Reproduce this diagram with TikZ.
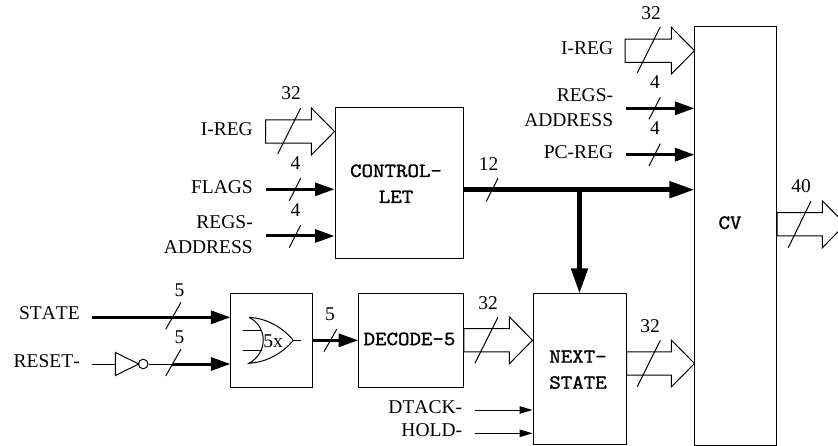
\documentclass[tikz,border=0pt]{standalone}
\usepackage{fontspec}
\setmainfont[Kerning=Off]{Liberation Serif}
\setmonofont[FakeBold=1.6,FakeStretch=1.114]{Latin Modern Mono}
\usetikzlibrary{arrows.meta,calc}
\newcommand{\bigarrow}[2]{%
  \draw[line width=1pt,line join=miter,fill=white]
    let \p1=(#1),\p2=(#2) in
    (\x1,\y1+11.6pt) -- (\x2-23.2pt,\y1+11.6pt) -- (\x2-23.2pt,\y1+23.5pt) --
    (\x2,\y1) -- (\x2-23.2pt,\y1-23.5pt) -- (\x2-23.2pt,\y1-11.6pt) -- (\x1,\y1-11.6pt) -- cycle;}
\tikzset{
  x=1pt,y=-1pt,
  every node/.style={font=\fontsize{19.5pt}{25pt}\selectfont},
  blockbox/.style={draw=black,line width=1pt,inner sep=0pt},
  blocktext/.style={inner sep=0pt,align=center,
    font=\fontsize{20pt}{26pt}\selectfont\ttfamily},
  sig/.style={anchor=east,inner sep=0pt,align=right},
  num/.style={inner sep=0pt},
  slash/.style={line width=1pt},
  busarrow/.style={line width=3pt,-{Triangle[length=19.5pt,width=13pt]}},
  mainarrow/.style={line width=4.7pt,-{Triangle[length=25pt,width=16pt]}},
  thinarrow/.style={line width=1pt,-{Triangle[length=13pt,width=7.5pt]}},
  wire/.style={line width=1pt},
  gate/.style={line width=1pt},
}
\begin{document}
\begin{tikzpicture}
\useasboundingbox (0,0) rectangle (838,446);
\clip (0,0) rectangle (838,446);

% blocks
\node[blockbox,minimum width=128pt,minimum height=151pt] (ctrl) at (399,183.5) {};
\node[blockbox,minimum width=81.7pt,minimum height=418pt] (cv) at (735.8,236) {};
\node[blockbox,minimum width=81.7pt,minimum height=93pt] (orbox) at (271.8,340.5) {};
\node[blockbox,minimum width=104.6pt,minimum height=93pt] (dec) at (411,340.5) {};
\node[blockbox,minimum width=93pt,minimum height=150pt] (next) at (579.5,369) {};
\node[blocktext] (ctrltext) at (396,183.7) {CONTROL-\\LET};
\node[blocktext] (dectext) at (409.5,339) {DECODE-5};
\node[blocktext] (nexttext) at (578,369.7) {NEXT-\\STATE};
\node[blocktext] (cvtext) at (730,222.7) {CV};

% left labels, control block
\node[sig] (l1) at (253,129) {I-REG};
\node[sig] (l2) at (253,186.7) {FLAGS};
\node[sig] (l3) at (253,234.5) {REGS-\\ADDRESS};
\coordinate (a1) at (265.7,131.5);
\coordinate (a2) at (266,189.3);
\coordinate (a3) at (266,236);
\bigarrow{a1}{ctrl.west |- a1}
\draw[busarrow] (a2) -- (ctrl.west |- a2);
\draw[busarrow] (a3) -- (ctrl.west |- a3);
\draw[slash] (277.7,154) -- (300.7,108);
\draw[slash] (289.3,200.7) -- (300.7,178.3);
\draw[slash] (289.3,247.7) -- (300.7,225);
\node[num] (n1) at (291,93) {32};
\node[num] (n2) at (295.5,163) {4};
\node[num] (n3) at (295.5,210) {4};

% labels into CV
\node[sig] (l4) at (613.3,48) {I-REG};
\node[sig] (l5) at (613.3,107.5) {REGS-\\ADDRESS};
\node[sig] (l6) at (613.3,151.7) {PC-REG};
\coordinate (a4) at (625,50.7);
\coordinate (a5) at (625.5,108.3);
\coordinate (a6) at (625.5,154.7);
\bigarrow{a4}{cv.west |- a4}
\draw[busarrow] (a5) -- (cv.west |- a5);
\draw[busarrow] (a6) -- (cv.west |- a6);
\draw[slash] (637.3,73) -- (660.3,27);
\draw[slash] (649,119.3) -- (660.3,97.3);
\draw[slash] (649,166) -- (660.3,143.7);
\node[num] (n4) at (651,13) {32};
\node[num] (n5) at (655,82) {4};
\node[num] (n6) at (655,128) {4};

% main bus
\coordinate (bus) at (463,189.7);
\coordinate (branch) at (579.5,189.7);
\draw[mainarrow] (ctrl.east |- bus) -- (cv.west |- bus);
\draw[mainarrow] (branch) -- (next.north -| branch);
\draw[slash] (486.3,201.3) -- (498,178.3);
\node[num] (n7) at (488.7,164) {12};

% CV output
\coordinate (tip40) at (845.5,224.3);
\bigarrow{cv.east |- tip40}{tip40}
\draw[slash] (788.3,247.7) -- (811,201);
\node[num] (n8) at (801,186) {40};

% STATE and RESET- inputs
\node[sig] (l7) at (80,313) {STATE};
\node[sig] (l8) at (80,360.7) {RESET-};
\coordinate (s0) at (92,317.3);
\coordinate (r0) at (92,364);
\coordinate (r1) at (115.3,364);
\coordinate (r2) at (172,364);
\draw[busarrow] (s0) -- (orbox.west |- s0);
\draw[wire] (r0) -- (r1);
\draw[gate] (115.3,352.4) -- (138.7,364) -- (115.3,375.6) -- cycle;
\node[circle,draw=black,line width=1pt,minimum size=9.6pt,inner sep=0pt] (bub) at (143.2,364) {};
\draw[wire] (bub.east) -- (r2);
\draw[busarrow] (r2) -- (orbox.west |- r2);
\draw[slash] (165.7,329.3) -- (181,302.3);
\draw[slash] (165.7,376) -- (181,349);
\node[num] (n9) at (179.5,290) {5};
\node[num] (n10) at (179.5,337) {5};

% OR gate
\draw[gate] (249,317.3) .. controls (268,318.5) and (283,328) .. (293.3,340.3)
  .. controls (283,352.6) and (268,362) .. (249,363.3)
  .. controls (268,353) and (268,327) .. (249,317.3);
\draw[gate] (293.3,340.3) -- (301,340.3);
\draw[gate] (242.7,330.3) -- (261.5,330.3);
\draw[gate] (242.7,350.3) -- (261.5,350.3);
\node[num] (n11) at (273,341) {5x};

% OR to DECODE
\coordinate (o1) at (312,340.3);
\draw[busarrow] (orbox.east |- o1) -- (dec.west |- o1);
\draw[slash] (324,351.7) -- (336.7,329.3);
\node[num] (n12) at (330,314) {5};

% DECODE to NEXT
\coordinate (d1) at (463,340.3);
\bigarrow{dec.east |- d1}{next.west |- d1}
\draw[slash] (475,363.3) -- (498,317.3);
\node[num] (n13) at (488,303) {32};

% NEXT to CV
\coordinate (e1) at (626,363.5);
\bigarrow{next.east |- e1}{cv.west |- e1}
\draw[slash] (637.3,386.7) -- (660.3,340.3);
\node[num] (n14) at (650,326) {32};

% DTACK-, HOLD-
\node[sig] (l9) at (462.3,406.7) {DTACK-};
\node[sig] (l10) at (462.3,430) {HOLD-};
\coordinate (t1) at (475,410);
\coordinate (t2) at (475,433.3);
\draw[thinarrow] (t1) -- (next.west |- t1);
\draw[thinarrow] (t2) -- (next.west |- t2);
\end{tikzpicture}
\end{document}
